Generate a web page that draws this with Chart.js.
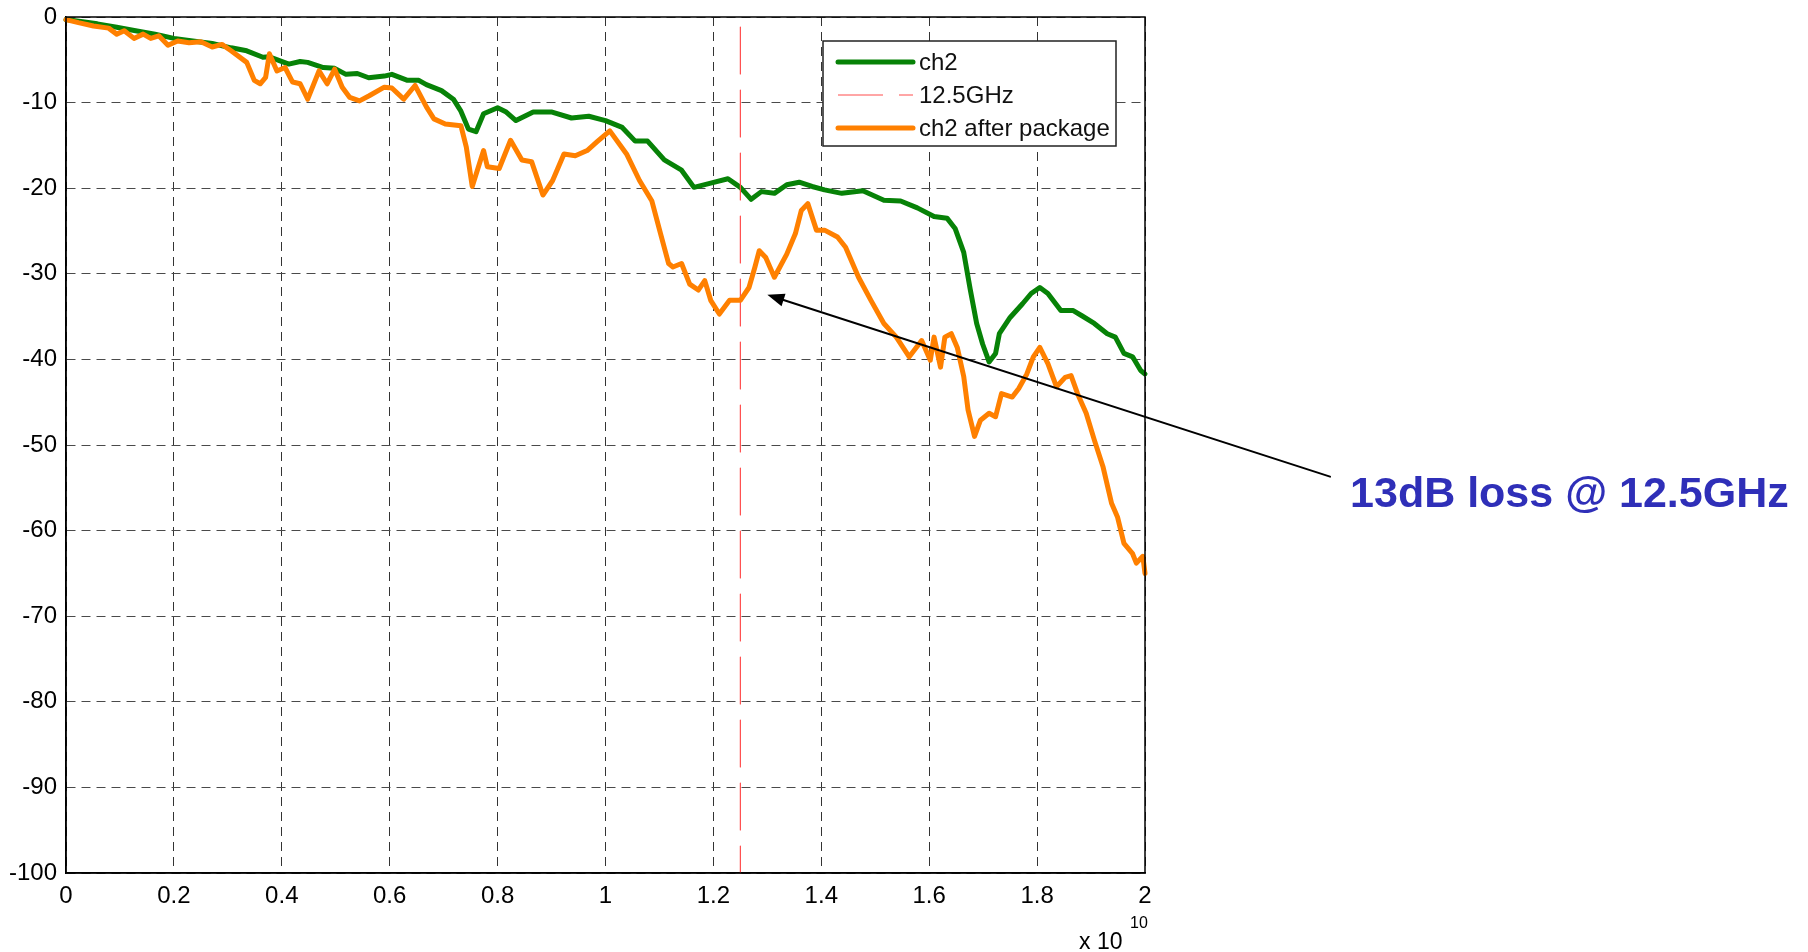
<!DOCTYPE html>
<html>
<head>
<meta charset="utf-8">
<script src="https://cdn.jsdelivr.net/npm/chart.js@4.4.1/dist/chart.umd.min.js"></script>
<style>
  html, body { margin: 0; padding: 0; background: #fff; }
  canvas { display: block; }
</style>
</head>
<body>
<canvas id="lossChart" width="1808" height="952"></canvas>
<script>
// frequency in units of 1e10 Hz, loss in dB
const ch2Freq = [0, 0.058, 0.094, 0.129, 0.165, 0.2, 0.235, 0.271, 0.306, 0.335, 0.365, 0.377, 0.413, 0.434, 0.448, 0.477, 0.498, 0.519, 0.54, 0.561, 0.59, 0.604, 0.633, 0.654, 0.668, 0.696, 0.718, 0.732, 0.746, 0.76, 0.774, 0.8, 0.816, 0.834, 0.866, 0.901, 0.937, 0.969, 1.0, 1.031, 1.055, 1.078, 1.109, 1.141, 1.164, 1.195, 1.227, 1.25, 1.27, 1.289, 1.313, 1.336, 1.359, 1.383, 1.406, 1.438, 1.477, 1.516, 1.547, 1.578, 1.609, 1.633, 1.648, 1.664, 1.676, 1.688, 1.699, 1.711, 1.723, 1.73, 1.75, 1.773, 1.789, 1.805, 1.82, 1.844, 1.867, 1.883, 1.906, 1.93, 1.945, 1.961, 1.977, 1.992, 2.0];
const ch2Loss = [-0.3, -0.8, -1.2, -1.6, -2.0, -2.5, -2.8, -3.1, -3.6, -3.95, -4.7, -4.65, -5.5, -5.2, -5.3, -5.9, -6.0, -6.7, -6.6, -7.1, -6.9, -6.7, -7.4, -7.4, -7.9, -8.6, -9.6, -11.0, -13.1, -13.4, -11.3, -10.6, -11.1, -12.1, -11.1, -11.1, -11.8, -11.6, -12.1, -12.9, -14.5, -14.5, -16.7, -17.9, -19.9, -19.4, -18.9, -19.9, -21.3, -20.4, -20.6, -19.6, -19.3, -19.8, -20.2, -20.6, -20.3, -21.4, -21.5, -22.3, -23.3, -23.5, -24.7, -27.5, -31.8, -35.8, -38.2, -40.3, -39.3, -37.0, -35.1, -33.5, -32.3, -31.6, -32.3, -34.3, -34.3, -34.9, -35.8, -37.0, -37.4, -39.3, -39.7, -41.3, -41.7];

const pkgFreq = [0, 0.023, 0.051, 0.079, 0.094, 0.108, 0.126, 0.143, 0.157, 0.172, 0.189, 0.207, 0.228, 0.25, 0.271, 0.289, 0.306, 0.335, 0.349, 0.36, 0.37, 0.377, 0.391, 0.406, 0.42, 0.434, 0.448, 0.469, 0.484, 0.498, 0.512, 0.526, 0.544, 0.562, 0.59, 0.604, 0.626, 0.647, 0.668, 0.682, 0.703, 0.732, 0.742, 0.753, 0.774, 0.781, 0.803, 0.824, 0.845, 0.863, 0.884, 0.902, 0.923, 0.944, 0.966, 0.984, 1.008, 1.039, 1.063, 1.086, 1.102, 1.117, 1.125, 1.141, 1.156, 1.172, 1.184, 1.195, 1.211, 1.23, 1.25, 1.266, 1.277, 1.285, 1.297, 1.313, 1.336, 1.352, 1.363, 1.375, 1.391, 1.406, 1.43, 1.445, 1.469, 1.492, 1.516, 1.539, 1.563, 1.586, 1.602, 1.609, 1.621, 1.629, 1.641, 1.652, 1.664, 1.672, 1.684, 1.695, 1.711, 1.723, 1.734, 1.754, 1.766, 1.781, 1.793, 1.805, 1.82, 1.836, 1.852, 1.863, 1.875, 1.891, 1.906, 1.922, 1.938, 1.949, 1.961, 1.977, 1.984, 1.996, 2.0];
const pkgLoss = [-0.3, -0.66, -1.05, -1.3, -2.0, -1.6, -2.5, -2.0, -2.5, -2.2, -3.3, -2.8, -3.0, -2.9, -3.5, -3.2, -3.95, -5.3, -7.4, -7.8, -7.05, -4.3, -6.3, -5.9, -7.6, -7.8, -9.6, -6.3, -7.8, -6.1, -8.2, -9.4, -9.8, -9.2, -8.2, -8.3, -9.6, -8.0, -10.5, -11.9, -12.5, -12.7, -15.2, -19.8, -15.6, -17.5, -17.7, -14.4, -16.7, -16.9, -20.8, -19.1, -16.0, -16.2, -15.6, -14.6, -13.3, -16.0, -19.1, -21.5, -25.3, -28.8, -29.2, -28.8, -31.2, -31.9, -30.8, -33.1, -34.7, -33.1, -33.1, -31.6, -29.2, -27.3, -28.1, -30.4, -27.7, -25.3, -22.6, -21.8, -24.9, -24.9, -25.7, -26.9, -30.4, -33.1, -35.8, -37.4, -39.7, -37.8, -40.1, -37.4, -40.9, -37.4, -37.0, -38.6, -42.0, -45.9, -49.0, -47.1, -46.3, -46.7, -44.0, -44.4, -43.4, -41.7, -39.7, -38.6, -40.5, -43.2, -42.1, -41.9, -44.0, -46.3, -49.4, -52.5, -56.8, -58.4, -61.5, -62.7, -63.8, -63.0, -65.0];

const markerFreq = [1.25, 1.25];
const markerLoss = [0, -100];

const xTicks = [0, 0.2, 0.4, 0.6, 0.8, 1, 1.2, 1.4, 1.6, 1.8, 2];
const yTicks = [0, -10, -20, -30, -40, -50, -60, -70, -80, -90, -100];

const noteText = "13dB loss @ 12.5GHz";
const noteArrow = { from: [2.343, -53.7], to: [1.30, -32.45] };

const FONT = '"Liberation Sans", Arial, sans-serif';
const toPoints = (xs, ys) => xs.map((x, i) => ({ x: x, y: ys[i] }));

const ch2Color = "#078207";
const pkgColor = "#ff8000";
const markerColor = "#ff4d4d";
const markerDash = [47, 16];

// box around the plot, legend, exponent label and the note with its arrow
const extrasPlugin = {
    id: "extras",
    afterDraw(chart) {
        const ctx = chart.ctx;
        const area = chart.chartArea;
        const xs = chart.scales.x, ys = chart.scales.y;

        ctx.save();
        ctx.strokeStyle = "#000";
        ctx.lineWidth = 1.5;
        ctx.strokeRect(area.left, area.top, area.right - area.left, area.bottom - area.top);

        // legend
        const lx = area.right - 322, ly = area.top + 24, lw = 293, lh = 105;
        ctx.fillStyle = "#fff";
        ctx.fillRect(lx, ly, lw, lh);
        ctx.lineWidth = 1.5;
        ctx.strokeStyle = "#222";
        ctx.strokeRect(lx, ly, lw, lh);
        const rows = [
            { label: "ch2", color: ch2Color, width: 5, dash: [] },
            { label: "12.5GHz", color: markerColor, width: 1, dash: [45, 16] },
            { label: "ch2 after package", color: pkgColor, width: 5, dash: [] },
        ];
        ctx.font = "24px " + FONT;
        ctx.textBaseline = "middle";
        rows.forEach((r, i) => {
            const y = ly + 21 + i * 33;
            ctx.beginPath();
            ctx.setLineDash(r.dash);
            ctx.lineCap = r.dash.length ? "butt" : "round";
            ctx.strokeStyle = r.color;
            ctx.lineWidth = r.width;
            ctx.moveTo(lx + 15, y);
            ctx.lineTo(lx + 90, y);
            ctx.stroke();
            ctx.setLineDash([]);
            ctx.fillStyle = "#111";
            ctx.textAlign = "left";
            ctx.fillText(r.label, lx + 96, y + 1);
        });

        // x 10^10
        ctx.fillStyle = "#000";
        ctx.textAlign = "left";
        ctx.textBaseline = "middle";
        ctx.font = "23px " + FONT;
        ctx.fillText("x 10", area.right - 66, 943);
        ctx.font = "16px " + FONT;
        ctx.fillText("10", area.right - 15, 924);

        // arrow
        const x1 = xs.getPixelForValue(noteArrow.from[0]);
        const y1 = ys.getPixelForValue(noteArrow.from[1]);
        const x2 = xs.getPixelForValue(noteArrow.to[0]);
        const y2 = ys.getPixelForValue(noteArrow.to[1]);
        const ang = Math.atan2(y2 - y1, x2 - x1);
        const head = 17, half = 6.5;
        ctx.strokeStyle = "#000";
        ctx.lineWidth = 2;
        ctx.beginPath();
        ctx.moveTo(x1, y1);
        ctx.lineTo(x2 - Math.cos(ang) * head, y2 - Math.sin(ang) * head);
        ctx.stroke();
        ctx.fillStyle = "#000";
        ctx.beginPath();
        ctx.moveTo(x2, y2);
        ctx.lineTo(x2 - Math.cos(ang) * head - Math.sin(ang) * half, y2 - Math.sin(ang) * head + Math.cos(ang) * half);
        ctx.lineTo(x2 - Math.cos(ang) * head + Math.sin(ang) * half, y2 - Math.sin(ang) * head - Math.cos(ang) * half);
        ctx.closePath();
        ctx.fill();

        // note text
        ctx.fillStyle = "#2f2fb8";
        ctx.font = "bold 43px " + FONT;
        ctx.textAlign = "left";
        ctx.textBaseline = "alphabetic";
        ctx.fillText(noteText, x1 + 20, y1 + 30);
        ctx.restore();
    },
};

const lossChart = new Chart(document.getElementById("lossChart"), {
    type: "line",
    data: {
        datasets: [
            {
                label: "ch2",
                data: toPoints(ch2Freq, ch2Loss),
                borderColor: ch2Color,
                borderWidth: 5,
                order: 3,
            },
            {
                label: "12.5GHz",
                data: toPoints(markerFreq, markerLoss),
                borderColor: markerColor,
                borderWidth: 1.2,
                borderDash: markerDash,
                borderDashOffset: -10,
                order: 2,
            },
            {
                label: "ch2 after package",
                data: toPoints(pkgFreq, pkgLoss),
                borderColor: pkgColor,
                borderWidth: 5,
                order: 1,
            },
        ],
    },
    options: {
        responsive: false,
        animation: false,
        events: [],
        clip: false,
        elements: {
            point: { radius: 0 },
            line: { tension: 0, fill: false, borderJoinStyle: "round", borderCapStyle: "round" },
        },
        layout: { padding: { top: 17, right: 663, left: 0, bottom: 0 } },
        plugins: {
            legend: { display: false },
            tooltip: { enabled: false },
        },
        scales: {
            x: {
                type: "linear",
                min: 0,
                max: 2,
                afterBuildTicks: (s) => { s.ticks = xTicks.map(v => ({ value: v })); },
                afterFit: (s) => { s.height = 79; s.paddingLeft = 0; s.paddingRight = 0; },
                ticks: {
                    padding: 9,
                    color: "#000",
                    font: { family: FONT, size: 24 },
                    maxRotation: 0,
                    callback: (v) => String(+v.toFixed(1)),
                },
                grid: { color: "#333", lineWidth: 1, drawTicks: false },
                border: { display: true, color: "#000", width: 1.5, dash: [9, 6] },
            },
            y: {
                type: "linear",
                min: -100,
                max: 0,
                afterBuildTicks: (s) => { s.ticks = yTicks.map(v => ({ value: v })); },
                afterFit: (s) => { s.width = 66; s.paddingTop = 0; s.paddingBottom = 0; },
                ticks: {
                    padding: 9,
                    color: "#000",
                    font: { family: FONT, size: 24 },
                },
                grid: { color: "#4a4a4a", lineWidth: 1, drawTicks: false },
                border: { display: true, color: "#000", width: 1.5, dash: [9, 6] },
            },
        },
    },
    plugins: [extrasPlugin],
});
</script>
</body>
</html>
